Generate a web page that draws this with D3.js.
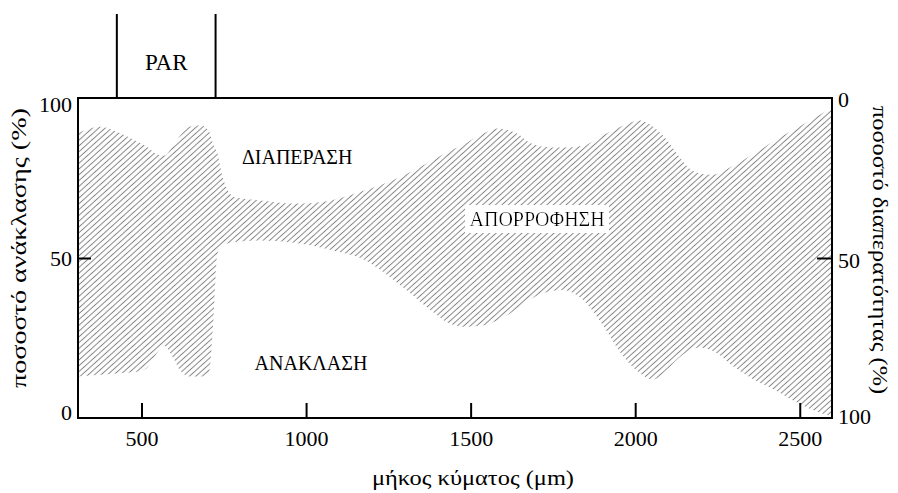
<!DOCTYPE html>
<html>
<head>
<meta charset="utf-8">
<script src="https://cdn.jsdelivr.net/npm/d3@7"></script>
</head>
<body style="margin:0">
<svg id="chart" width="898" height="493" font-family="Liberation Serif"></svg>
<script>
// Wavelength grid (nm) shared by both spectra
const wavelength = [307, 375, 435, 495, 520, 545, 570, 595, 620, 645, 680, 705, 718, 730, 745, 760, 785, 860, 980, 1075, 1175, 1280, 1375, 1437, 1475, 1540, 1580, 1640, 1680, 1720, 1780, 1840, 1905, 1955, 2015, 2055, 2095, 2135, 2165, 2195, 2235, 2300, 2360, 2420, 2480, 2540, 2598];

// Reflectance of the leaf (%), left axis
const reflectance = [13, 13.5, 14, 14.5, 16, 20, 22.5, 19, 14.5, 13, 13, 14, 30, 51, 54, 54.5, 55, 55.5, 54.5, 52.5, 49.5, 42, 34, 29.5, 28.5, 29, 30.5, 34, 37, 39, 40, 37, 28.5, 20.5, 14, 12, 15, 19, 21, 22, 21, 16, 12, 9, 5.5, 2.5, 0.5];

// Transmittance of the leaf (%), right axis (measured downward from the top)
const transmittance = [11, 9, 11, 14, 15.5, 17.5, 18, 15, 11.5, 9, 8.5, 10.5, 14.5, 17, 24, 28.5, 31, 32, 33, 32, 29, 25, 20, 16.5, 14.7, 11, 9.5, 11, 14, 15.2, 15.5, 15, 11.5, 9, 7, 9, 13, 18.5, 22, 23.5, 24, 21, 17.5, 13.5, 10, 6.5, 3];

const xTicks = [500, 1000, 1500, 2000, 2500];
const leftTicks = [0, 50, 100];
const rightTicks = [0, 50, 100];
const parRange = [425, 725];

const regionLabels = [
  { text: "ΔΙΑΠΕΡΑΣΗ", wl: 973, value: 81.6, boxed: false },
  { text: "ΑΠΟΡΡΟΦΗΣΗ", wl: 1702, value: 62.3, boxed: true },
  { text: "ΑΝΑΚΛΑΣΗ", wl: 1015, value: 17.2, boxed: false }
];

const SERIF = "Liberation Serif";

const svg = d3.select("#chart");
const plot = { left: 78, right: 832, top: 98, bottom: 418 };

const x = d3.scaleLinear().domain([307, 2598]).range([plot.left, plot.right]);
const yLeft = d3.scaleLinear().domain([0, 100]).range([plot.bottom, plot.top]);
const yRight = d3.scaleLinear().domain([0, 100]).range([plot.top, plot.bottom]);

const defs = svg.append("defs");
const pat = defs.append("pattern")
  .attr("id", "hatch")
  .attr("patternUnits", "userSpaceOnUse")
  .attr("width", 10)
  .attr("height", 4.3)
  .attr("patternTransform", "rotate(-42)");
pat.append("line")
  .attr("x1", 0).attr("x2", 10)
  .attr("y1", 2.15).attr("y2", 2.15)
  .attr("stroke", "#858585")
  .attr("stroke-width", 1);

// White box behind a label, sized from the text's own bounding box
const bgFilter = defs.append("filter")
  .attr("id", "labelBox")
  .attr("x", -0.03).attr("y", -0.12)
  .attr("width", 1.06).attr("height", 1.24);
bgFilter.append("feFlood").attr("flood-color", "#fff").attr("result", "bg");
const merge = bgFilter.append("feMerge");
merge.append("feMergeNode").attr("in", "bg");
merge.append("feMergeNode").attr("in", "SourceGraphic");

defs.append("clipPath").attr("id", "plotClip")
  .append("rect")
  .attr("x", plot.left).attr("y", plot.top)
  .attr("width", plot.right - plot.left)
  .attr("height", plot.bottom - plot.top);

// Absorption band: between reflectance (bottom) and transmittance (top)
const rows = wavelength.map((w, i) => ({ w, r: reflectance[i], t: transmittance[i] }));
const band = d3.area()
  .x(d => x(d.w))
  .y0(d => yLeft(d.r))
  .y1(d => yRight(d.t))
  .curve(d3.curveMonotoneX);

svg.append("path")
  .datum(rows)
  .attr("clip-path", "url(#plotClip)")
  .attr("d", band)
  .attr("fill", "url(#hatch)");

function styleText(sel, size) {
  sel.attr("font-family", SERIF).attr("font-size", size);
  return sel;
}

// Region labels
svg.selectAll("text.region").data(regionLabels).join("text")
  .attr("class", "region")
  .attr("x", d => x(d.wl))
  .attr("y", d => yLeft(d.value))
  .attr("dy", "0.35em")
  .attr("text-anchor", "middle")
  .attr("filter", d => (d.boxed ? "url(#labelBox)" : null))
  .attr("font-family", SERIF)
  .attr("font-size", 20)
  .text(d => d.text);

// Frame
svg.append("rect")
  .attr("x", plot.left).attr("y", plot.top)
  .attr("width", plot.right - plot.left)
  .attr("height", plot.bottom - plot.top)
  .attr("fill", "none")
  .attr("stroke", "#000")
  .attr("stroke-width", 2);

// Bottom axis (ticks point inward)
const xAxis = svg.append("g")
  .attr("transform", `translate(0,${plot.bottom})`)
  .call(d3.axisBottom(x).tickValues(xTicks).tickFormat(d3.format("d")).tickSize(-15).tickPadding(12));
xAxis.attr("font-family", SERIF).attr("font-size", 22);
xAxis.select(".domain").remove();
xAxis.selectAll("line").attr("stroke", "#000").attr("stroke-width", 2);
styleText(xAxis.selectAll("text"), 22);

// Left axis
const lAxis = svg.append("g")
  .attr("transform", `translate(${plot.left},0)`)
  .call(d3.axisLeft(yLeft).tickValues(leftTicks).tickSize(-13).tickPadding(6));
lAxis.attr("font-family", SERIF).attr("font-size", 22);
lAxis.select(".domain").remove();
lAxis.selectAll("line").attr("stroke", "#000").attr("stroke-width", 2)
  .attr("opacity", d => (d === 50 ? 1 : 0));
styleText(lAxis.selectAll("text"), 22)
  .attr("dy", d => (d === 100 ? "0.62em" : d === 0 ? "0.05em" : "0.32em"));

// Right axis
const rAxis = svg.append("g")
  .attr("transform", `translate(${plot.right},0)`)
  .call(d3.axisRight(yRight).tickValues(rightTicks).tickSize(-15).tickPadding(6));
rAxis.attr("font-family", SERIF).attr("font-size", 22);
rAxis.select(".domain").remove();
rAxis.selectAll("line").attr("stroke", "#000").attr("stroke-width", 2)
  .attr("opacity", d => (d === 50 ? 1 : 0));
styleText(rAxis.selectAll("text"), 22)
  .attr("dy", d => (d === 0 ? "0.4em" : d === 100 ? "0.25em" : "0.45em"));

// PAR bracket above the plot
svg.selectAll("line.par").data(parRange).join("line")
  .attr("class", "par")
  .attr("x1", d => x(d)).attr("x2", d => x(d))
  .attr("y1", 14).attr("y2", plot.top)
  .attr("stroke", "#000").attr("stroke-width", 2);
styleText(svg.append("text")
  .attr("x", x(d3.mean(parRange)))
  .attr("y", 62)
  .attr("dy", "0.35em")
  .attr("text-anchor", "middle")
  .text("PAR"), 23);

// Axis titles
styleText(svg.append("text")
  .attr("x", 473)
  .attr("y", 477)
  .attr("dy", "0.35em")
  .attr("text-anchor", "middle")
  .attr("textLength", 202)
  .attr("lengthAdjust", "spacingAndGlyphs")
  .text("μήκος κύματος (μm)"), 22);

styleText(svg.append("text")
  .attr("transform", "translate(18,248) rotate(-90)")
  .attr("dy", "0.35em")
  .attr("text-anchor", "middle")
  .attr("textLength", 280)
  .attr("lengthAdjust", "spacingAndGlyphs")
  .text("ποσοστό ανάκλασης (%)"), 22);

styleText(svg.append("text")
  .attr("transform", "translate(881,250) rotate(90)")
  .attr("dy", "0.35em")
  .attr("text-anchor", "middle")
  .attr("textLength", 288)
  .attr("lengthAdjust", "spacingAndGlyphs")
  .text("ποσοστό διαπερατότητας (%)"), 22);
</script>
</body>
</html>
